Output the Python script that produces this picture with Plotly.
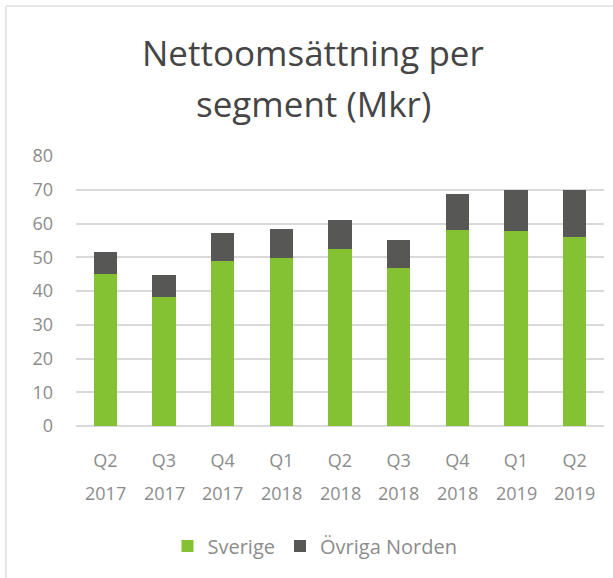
import plotly.graph_objects as go

# Quarter labels and segment values (Mkr)
quarters = ["Q2", "Q3", "Q4", "Q1", "Q2", "Q3", "Q4", "Q1", "Q2"]
years = ["2017", "2017", "2017", "2018", "2018", "2018", "2018", "2019", "2019"]
periods = [f"{q} {y}" for q, y in zip(quarters, years)]
sverige = [45.1, 38.3, 48.9, 49.7, 52.4, 46.7, 58.1, 57.7, 56.1]
ovriga_norden = [6.4, 6.4, 8.4, 8.7, 8.7, 8.4, 10.7, 12.2, 13.8]
y_ticks = [0, 10, 20, 30, 40, 50, 60, 70, 80]

GREEN = "#84c234"
DARK = "#575756"
GRID = "#d9d9d9"
TEXT = "#8c8c8c"
FONT = "'Open Sans', Lato, sans-serif"

# plot area in pixels: x 76..604, y 156..426
PW, PH = 528, 270

fig = go.Figure()
fig.add_trace(go.Bar(x=periods, y=sverige, name="Sverige",
                     marker=dict(color=GREEN, line=dict(width=0))))
fig.add_trace(go.Bar(x=periods, y=ovriga_norden, name="Övriga Norden",
                     marker=dict(color=DARK, line=dict(width=0))))

# second row of the x tick labels (years), placed on the category axis
year_notes = [
    dict(text=y, x=p, xref="x", yref="paper", y=(426 - 493) / PH, showarrow=False,
         font=dict(size=18, color=TEXT), yanchor="middle")
    for p, y in zip(periods, years)
]

fig.update_layout(
    width=613, height=578, autosize=False,
    barmode="stack", bargap=0.6,
    plot_bgcolor="white", paper_bgcolor="white",
    margin=dict(l=76, r=9, t=156, b=152, autoexpand=False),
    font=dict(family=FONT, color=TEXT, size=18),
    showlegend=True,
    legend=dict(orientation="h", traceorder="normal", x=(315 - 76) / PW, xanchor="center",
                y=(426 - 546) / PH, yanchor="middle", font=dict(size=20, color=TEXT)),
    xaxis=dict(showgrid=False, showline=False, ticks="", tickvals=periods, ticktext=quarters,
               tickfont=dict(size=18, color=TEXT), tickangle=0, automargin=False,
               ticklabelstandoff=22),
    yaxis=dict(range=[0, 80], tickvals=y_ticks, showgrid=True, gridcolor=GRID, gridwidth=1.5,
               zeroline=True, zerolinecolor=GRID, zerolinewidth=1.5, automargin=False,
               ticks="", ticklabelstandoff=22, tickfont=dict(size=18, color=TEXT)),
    annotations=[
        dict(text="Nettoomsättning per", xref="paper", yref="paper", x=(313 - 76) / PW,
             y=(426 - 52) / PH, showarrow=False, font=dict(size=35, color="#454545"),
             xanchor="center", yanchor="middle"),
        dict(text="segment (Mkr)", xref="paper", yref="paper", x=(313 - 76) / PW,
             y=(426 - 103) / PH, showarrow=False, font=dict(size=35, color="#454545"),
             xanchor="center", yanchor="middle"),
    ] + year_notes,
    shapes=[
        dict(type="line", xref="paper", yref="paper", x0=(6 - 76) / PW, x1=1.1,
             y0=(426 - 6) / PH, y1=(426 - 6) / PH, line=dict(color="#e6e6e6", width=2)),
        dict(type="line", xref="paper", yref="paper", x0=(6 - 76) / PW, x1=(6 - 76) / PW,
             y0=(426 - 6) / PH, y1=-0.7, line=dict(color="#e6e6e6", width=2)),
    ],
)

fig.write_html("out.html", config={"displayModeBar": False},
               post_script="document.body.style.margin='0';")
